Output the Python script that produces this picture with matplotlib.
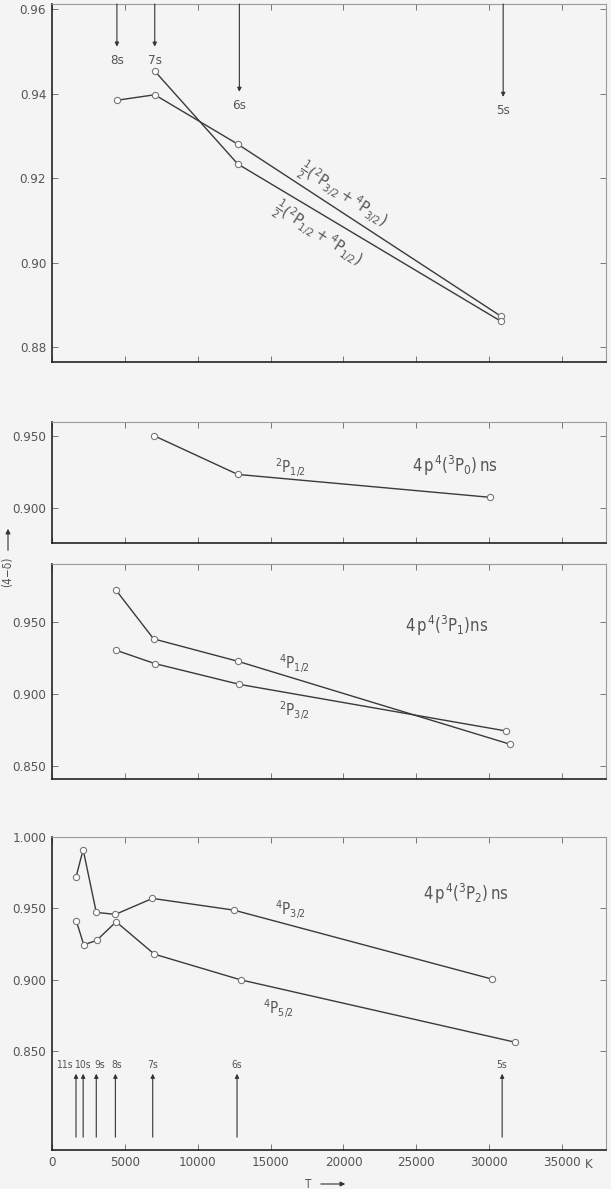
import matplotlib
matplotlib.use("Agg")
import matplotlib.pyplot as plt
from matplotlib import font_manager as fm

# ---------------- data ----------------
# panel 1: 1/2(2P + 4P) averages
p1_t_32 = [4465, 7060, 12750, 30770]
p1_v_32 = [0.9385, 0.9398, 0.9281, 0.8874]
p1_t_12 = [7060, 12750, 30770]
p1_v_12 = [0.9454, 0.9234, 0.8862]
p1_arrow_labels = ["8s", "7s", "6s", "5s"]
p1_arrow_t = [4465, 7060, 12860, 30950]
p1_arrow_tip = [0.9512, 0.9512, 0.9405, 0.9393]

# panel 2: 4p4(3P0)ns
p2_t = [7005, 12750, 30070]
p2_v = [0.950, 0.9231, 0.9072]

# panel 3: 4p4(3P1)ns
p3_t_4p12 = [4385, 6980, 12750, 31440]
p3_v_4p12 = [0.9726, 0.9384, 0.9228, 0.8649]
p3_t_2p32 = [4400, 7060, 12860, 31140]
p3_v_2p32 = [0.9305, 0.9212, 0.9067, 0.8742]

# panel 4: 4p4(3P2)ns
p4_t_4p32 = [1660, 2150, 3050, 4360, 6900, 12480, 30180]
p4_v_4p32 = [0.9720, 0.9912, 0.9472, 0.9458, 0.9570, 0.9488, 0.9004]
p4_t_4p52 = [1690, 2190, 3070, 4410, 7030, 12940, 31730]
p4_v_4p52 = [0.9409, 0.9245, 0.9275, 0.9406, 0.9179, 0.8999, 0.8562]
p4_arrow_labels = ["11s", "10s", "9s", "8s", "7s", "6s", "5s"]
p4_arrow_t = [1660, 2150, 3050, 4360, 6920, 12700, 30880]
p4_label_t = [870, 2070, 3300, 4470, 6910, 12650, 30830]

x_ticks = [0, 5000, 10000, 15000, 20000, 25000, 30000, 35000]
p1_yticks = [0.88, 0.90, 0.92, 0.94, 0.96]
p2_yticks = [0.900, 0.950]
p3_yticks = [0.850, 0.900, 0.950]
p4_yticks = [0.850, 0.900, 0.950, 1.000]

# ---------------- style ----------------
fonts = fm.fontManager.ttflist
names = {f.name for f in fonts}
stretch = "normal"
if "Liberation Sans Narrow" in names:
    fam = "Liberation Sans Narrow"
elif any(f.name == "DejaVu Sans" and str(f.stretch) in ("condensed", "semi-condensed")
         for f in fonts):
    fam = "DejaVu Sans"
    stretch = "condensed"
elif "Roboto Condensed" in names:
    fam = "Roboto Condensed"
else:
    fam = "Roboto"
plt.rcParams["font.family"] = [fam, "DejaVu Sans"]
plt.rcParams["font.stretch"] = stretch
plt.rcParams["font.weight"] = "light" if fam == "Roboto" else "normal"
plt.rcParams["mathtext.fontset"] = "custom"
plt.rcParams["mathtext.rm"] = fam
plt.rcParams["mathtext.it"] = fam
plt.rcParams["mathtext.bf"] = fam

BG = "#f4f4f4"
LC = "#3a3a3a"
TC = "#555555"
FS = 9.5

fig = plt.figure(figsize=(6.11, 11.89), dpi=100, facecolor=BG)
W, H = 611.0, 1189.0


def mk_axes(top, bottom, left=51.8, right=606.0):
    return fig.add_axes([left / W, 1 - bottom / H, (right - left) / W, (bottom - top) / H])


def style(ax, ylim, yticks, fmt, show_x=False):
    ax.set_facecolor(BG)
    ax.set_xlim(0, 38000)
    ax.set_ylim(*ylim)
    ax.set_xticks(x_ticks)
    ax.set_yticks(yticks)
    ax.set_yticklabels([fmt.format(v) for v in yticks])
    ax.tick_params(direction="in", length=4, width=0.7, color="#777777",
                   top=True, right=True, labelsize=FS, labelcolor=TC, pad=4)
    if not show_x:
        ax.tick_params(labelbottom=False)
    for s in ["left", "bottom"]:
        ax.spines[s].set_color("#222222")
        ax.spines[s].set_linewidth(1.2)
    for s in ["top", "right"]:
        ax.spines[s].set_color("#9a9a9a")
        ax.spines[s].set_linewidth(0.8)


def series(ax, t, v):
    ax.plot(t, v, color=LC, lw=1.0, marker="o", ms=4.5, mfc="white",
            mec="#777777", mew=0.8, zorder=3)


# ---------------- panel 1 ----------------
ax1 = mk_axes(4, 362)
style(ax1, (0.8765, 0.9613), p1_yticks, "{:.2f}")
series(ax1, p1_t_32, p1_v_32)
series(ax1, p1_t_12, p1_v_12)
ytop = ax1.get_ylim()[1]
for lab, t, tip in zip(p1_arrow_labels, p1_arrow_t, p1_arrow_tip):
    ax1.annotate("", xy=(t, tip), xytext=(t, ytop),
                 arrowprops=dict(arrowstyle="-|>", lw=0.8, color="#333333",
                                 mutation_scale=6, shrinkA=0, shrinkB=0))
    ax1.annotate(lab, xy=(t, tip), xytext=(0, -5), textcoords="offset points",
                 ha="center", va="top", fontsize=FS, color=TC)
ax1.text(19970, 0.9160, r"$\frac{1}{2}(^{2}P_{3/2} + ^{4}P_{3/2})$", rotation=-33,
         rotation_mode="anchor", ha="center", va="center", fontsize=11.5, color=TC)
ax1.text(18250, 0.9068, r"$\frac{1}{2}(^{2}P_{1/2} + ^{4}P_{1/2})$", rotation=-33,
         rotation_mode="anchor", ha="center", va="center", fontsize=11.5, color=TC)

# ---------------- panel 2 ----------------
ax2 = mk_axes(421.7, 543.3)
style(ax2, (0.8753, 0.9597), p2_yticks, "{:.3f}")
series(ax2, p2_t, p2_v)
ax2.text(16400, 0.928, r"$^{2}P_{1/2}$", ha="center", va="center", fontsize=11, color=TC)
ax2.text(27600, 0.9287, r"$4\,p^{4}(^{3}P_{0})\,ns$", ha="center", va="center",
         fontsize=12, color=TC)

# ---------------- panel 3 ----------------
ax3 = mk_axes(564.3, 779.3)
style(ax3, (0.8405, 0.9904), p3_yticks, "{:.3f}")
series(ax3, p3_t_4p12, p3_v_4p12)
series(ax3, p3_t_2p32, p3_v_2p32)
ax3.text(16630, 0.9214, r"$^{4}P_{1/2}$", ha="center", va="center", fontsize=11, color=TC)
ax3.text(16630, 0.8881, r"$^{2}P_{3/2}$", ha="center", va="center", fontsize=11, color=TC)
ax3.text(27050, 0.9474, r"$4\,p^{4}(^{3}P_{1})ns$", ha="center", va="center",
         fontsize=12, color=TC)

# ---------------- panel 4 ----------------
ax4 = mk_axes(836.7, 1150)
style(ax4, (0.7805, 1.0003), p4_yticks, "{:.3f}", show_x=True)
ax4.set_xticklabels([str(v) for v in x_ticks])
series(ax4, p4_t_4p32, p4_v_4p32)
series(ax4, p4_t_4p52, p4_v_4p52)
for lab, t, lt in zip(p4_arrow_labels, p4_arrow_t, p4_label_t):
    ax4.annotate("", xy=(t, 0.834), xytext=(t, 0.7895),
                 arrowprops=dict(arrowstyle="-|>", lw=0.8, color="#333333",
                                 mutation_scale=6, shrinkA=0, shrinkB=0))
    ax4.text(lt, 0.8365, lab, ha="center", va="bottom", fontsize=7.5, color=TC)
ax4.text(16360, 0.949, r"$^{4}P_{3/2}$", ha="center", va="center", fontsize=11, color=TC)
ax4.text(15560, 0.8795, r"$^{4}P_{5/2}$", ha="center", va="center", fontsize=11, color=TC)
ax4.text(28390, 0.9603, r"$4\,p^{4}(^{3}P_{2})\,ns$", ha="center", va="center",
         fontsize=12, color=TC)

# K unit next to last tick label
fig.text(589 / W, 1 - 1165 / H, "K", ha="center", va="center", fontsize=FS, color=TC)

# T axis label with arrow
fig.text(308 / W, 1 - 1184 / H, "T", ha="center", va="center", fontsize=8.5, color=TC)
fig.add_artist(matplotlib.patches.FancyArrowPatch(
    (318 / W, 1 - 1184 / H), (348 / W, 1 - 1184 / H), transform=fig.transFigure,
    arrowstyle="-|>", mutation_scale=7, lw=0.8, color="#333333"))

# (4-δ) axis label with arrow
fig.text(8 / W, 1 - 572 / H, "(4\u2212δ)", rotation=90, ha="center", va="center",
         fontsize=8.5, color=TC)
fig.add_artist(matplotlib.patches.FancyArrowPatch(
    (8 / W, 1 - 553 / H), (8 / W, 1 - 526 / H), transform=fig.transFigure,
    arrowstyle="-|>", mutation_scale=7, lw=0.8, color="#333333"))

fig.savefig("out.png", dpi=100, facecolor=BG)
